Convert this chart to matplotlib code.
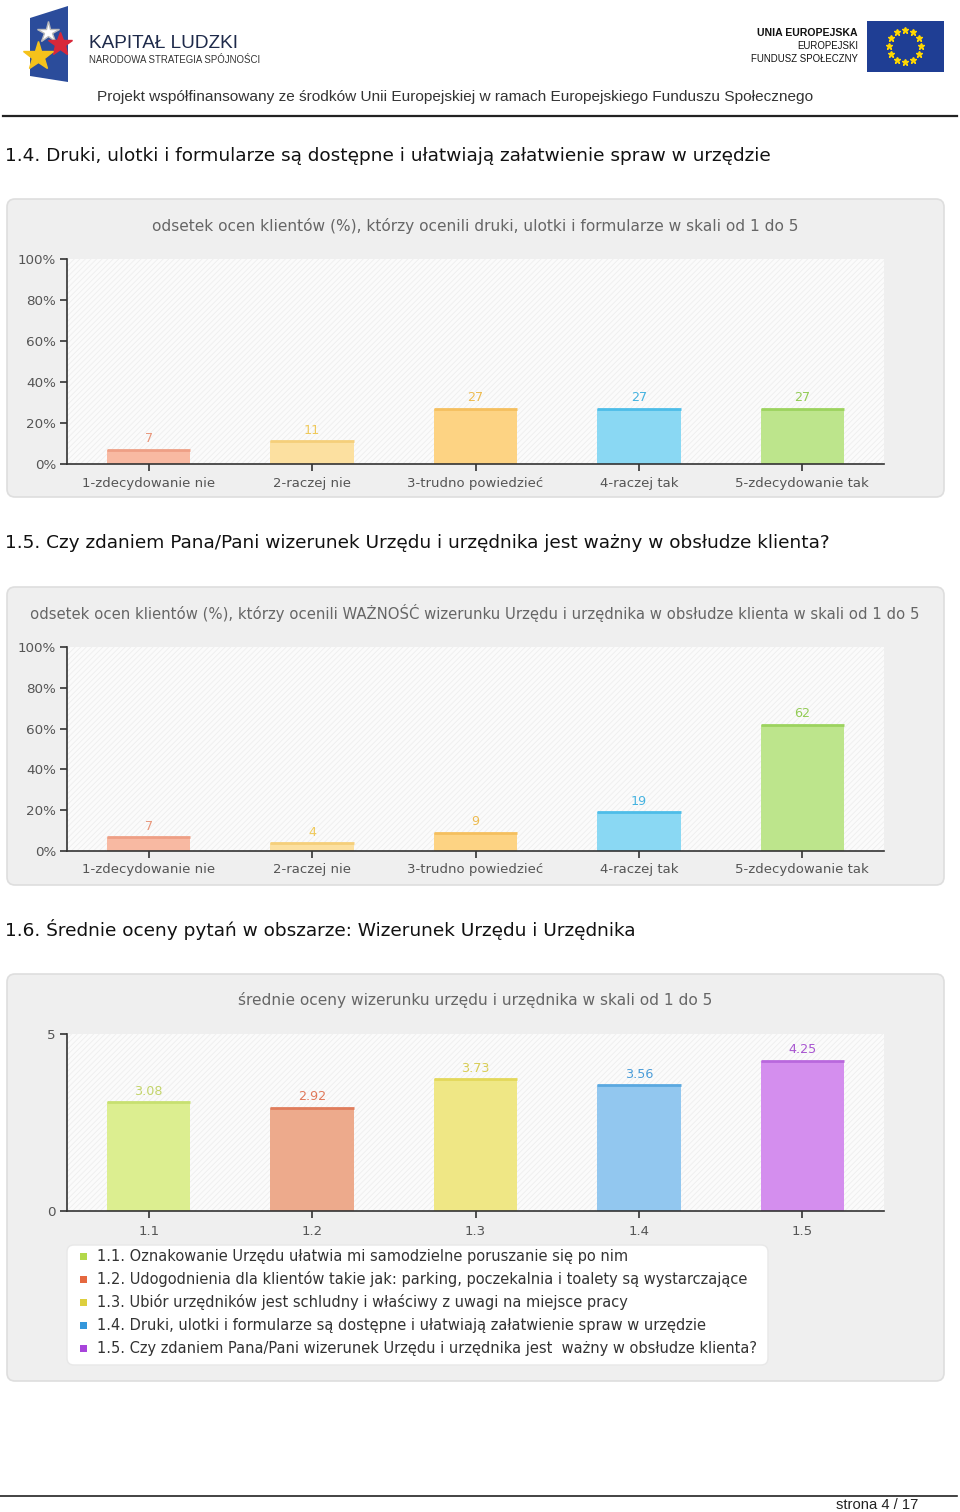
# Page 4 of the survey report: three bar charts with page header and footer
import matplotlib
matplotlib.use('Agg')
import matplotlib.pyplot as plt
from matplotlib.patches import FancyBboxPatch, Rectangle, Polygon
import numpy as np

plt.rcParams['font.family'] = ['DejaVu Sans']
plt.rcParams['hatch.linewidth'] = 0.6

## data
scale_cats = ['1-zdecydowanie nie', '2-raczej nie', '3-trudno powiedzieć', '4-raczej tak', '5-zdecydowanie tak']
druki_pct = [7, 11, 27, 27, 27]
wizerunek_pct = [7, 4, 9, 19, 62]
pct_ticks = [0, 20, 40, 60, 80, 100]
pct_ticklabels = ['0%', '20%', '40%', '60%', '80%', '100%']

mean_codes = ['1.1', '1.2', '1.3', '1.4', '1.5']
mean_scores = [3.08, 2.92, 3.73, 3.56, 4.25]
mean_ticks = [0, 5]
mean_legend = ['1.1. Oznakowanie Urzędu ułatwia mi samodzielne poruszanie się po nim',
               '1.2. Udogodnienia dla klientów takie jak: parking, poczekalnia i toalety są wystarczające',
               '1.3. Ubiór urzędników jest schludny i właściwy z uwagi na miejsce pracy',
               '1.4. Druki, ulotki i formularze są dostępne i ułatwiają załatwienie spraw w urzędzie',
               '1.5. Czy zdaniem Pana/Pani wizerunek Urzędu i urzędnika jest  ważny w obsłudze klienta?']

title1 = 'odsetek ocen klientów (%), którzy ocenili druki, ulotki i formularze w skali od 1 do 5'
title2 = 'odsetek ocen klientów (%), którzy ocenili WAŻNOŚĆ wizerunku Urzędu i urzędnika w obsłudze klienta w skali od 1 do 5'
title3 = 'średnie oceny wizerunku urzędu i urzędnika w skali od 1 do 5'

# colours
scale_fill = ['#F8B9A2', '#FCE0A0', '#FDD383', '#8AD8F3', '#BDE58C']
scale_top = ['#EE9F85', '#F5CF7A', '#F5BF5E', '#4DBDE8', '#9CD35E']
scale_lab = ['#E8967A', '#EFC95A', '#EDBB4F', '#45B3E0', '#93CB55']
mean_fill = ['#DCEE90', '#EDAA8C', '#EFE785', '#92C7EF', '#D48EEE']
mean_top = ['#C7E070', '#E07D5C', '#E3D85A', '#5AA8E0', '#B968DD']
mean_lab = ['#C3D46A', '#E0785A', '#D8CD55', '#4A9CD8', '#A855D0']
mean_key = ['#B3D84A', '#E5683F', '#DDCF3E', '#3497DB', '#A844DB']

W, H = 960, 1512
F1 = plt.figure(figsize=(9.6, 15.12), dpi=100)

# background axes in pixel coordinates for page furniture
bg = F1.add_axes([0, 0, 1, 1])
bg.set_xlim(0, W)
bg.set_ylim(H, 0)
bg.axis('off')

def px_axes(x0, y0, x1, y1):
    return F1.add_axes([x0 / W, 1 - y1 / H, (x1 - x0) / W, (y1 - y0) / H])

txtcol = '#555555'

## header
# Kapital Ludzki logo (simplified)
bg.add_patch(Polygon([[30, 18], [68, 6], [68, 82], [30, 76]], closed=True, facecolor='#2B4C9B', edgecolor='none'))
bg.plot([48], [32], marker='*', markersize=16, color='white', markeredgecolor='#bbbbbb')
bg.plot([60], [44], marker='*', markersize=18, color='#D8283A')
bg.plot([38], [56], marker='*', markersize=22, color='#F5C21B')
bg.text(89, 43, 'KAPITAŁ LUDZKI', fontsize=13.7, color='#1E2A4A', family='Liberation Sans', va='center', ha='left')
bg.text(89, 60, 'NARODOWA STRATEGIA SPÓJNOŚCI', fontsize=6.9, color='#333333', family='Liberation Sans', va='center', ha='left')
# EU logo
bg.text(858, 33, 'UNIA EUROPEJSKA', fontsize=7.6, fontweight='bold', color='#111111', family='Liberation Sans', va='center', ha='right')
bg.text(858, 46, 'EUROPEJSKI', fontsize=6.9, color='#111111', family='Liberation Sans', va='center', ha='right')
bg.text(858, 59, 'FUNDUSZ SPOŁECZNY', fontsize=6.9, color='#111111', family='Liberation Sans', va='center', ha='right')
bg.add_patch(Rectangle((867, 21), 77, 51, facecolor='#1F3E94', edgecolor='none'))
ang = np.linspace(0, 2 * np.pi, 13)[:-1]
bg.plot(905 + 16 * np.cos(ang), 46 + 16 * np.sin(ang), linestyle='none', marker='*', markersize=5, color='#FFD700')
bg.text(455, 97, 'Projekt współfinansowany ze środków Unii Europejskiej w ramach Europejskiego Funduszu Społecznego',
        fontsize=11.1, color='#333333', family='Liberation Sans', va='center', ha='center')
bg.plot([3, 957], [116, 116], color='#222222', lw=1.6)

## footer
bg.plot([0, 957], [1496, 1496], color='#222222', lw=1.2)
bg.text(918, 1505, 'strona 4 / 17', fontsize=10.6, color='#222222', family='Liberation Sans', va='center', ha='right')

## section headings
heads = [(156, '1.4. Druki, ulotki i formularze są dostępne i ułatwiają załatwienie spraw w urzędzie'),
         (543, '1.5. Czy zdaniem Pana/Pani wizerunek Urzędu i urzędnika jest ważny w obsłudze klienta?'),
         (930, '1.6. Średnie oceny pytań w obszarze: Wizerunek Urzędu i Urzędnika')]
for y, t in heads:
    bg.text(5, y, t, fontsize=13.3, color='#111111', va='center', ha='left')


def panel(box, plot, title, title_y, title_fs, cats, vals, fill, top, lab, ticks, ticklabels, ymax, fmt, xpad):
    bx0, by0, bx1, by1 = box
    bg.add_patch(FancyBboxPatch((bx0, by0), bx1 - bx0, by1 - by0, boxstyle='round,pad=0,rounding_size=8',
                                facecolor='#EFEFEF', edgecolor='#DEDEDE', lw=1.2))
    bg.text((bx0 + bx1) / 2 - 0.5, title_y, title, fontsize=title_fs, color='#666666', va='center', ha='center')
    ax = px_axes(*plot)
    ax.set_facecolor('none')
    ax.add_patch(Rectangle((0, 0), 1, 1, transform=ax.transAxes, facecolor='#FBFBFB', edgecolor='#EEEEEE',
                           hatch='//////', lw=0, zorder=0))
    x = np.arange(len(vals))
    w = 0.51
    ax.bar(x, vals, width=w, color=fill, edgecolor='none', zorder=2)
    ax.hlines(vals, x - w / 2, x + w / 2, colors=top, lw=2, zorder=3)
    for xi, v, c in zip(x, vals, lab):
        ax.annotate(fmt.format(v), (xi, v), xytext=(0, 3), textcoords='offset points',
                    ha='center', va='bottom', fontsize=9.2, color=c)
    ax.set_xlim(-0.5, 4.5)
    ax.set_ylim(0, ymax)
    ax.set_xticks(x)
    ax.set_xticklabels(cats, fontsize=9.5, color=txtcol)
    ax.set_yticks(ticks)
    ax.set_yticklabels(ticklabels, fontsize=9.7, color=txtcol)
    for s in ['top', 'right']:
        ax.spines[s].set_visible(False)
    for s in ['left', 'bottom']:
        ax.spines[s].set_color('#333333')
        ax.spines[s].set_linewidth(1.2)
        ax.spines[s].set_zorder(4)
    ax.tick_params(length=5, width=1.2, color='#333333', pad=3)
    ax.tick_params(axis='x', pad=xpad)
    return ax


panel((7, 199, 944, 497), (67, 259, 884, 464), title1, 226, 11.1, scale_cats, druki_pct,
      scale_fill, scale_top, scale_lab, pct_ticks, pct_ticklabels, 100, '{:d}', 4)
panel((7, 587, 944, 885), (67, 647, 884, 851), title2, 613, 10.7, scale_cats, wizerunek_pct,
      scale_fill, scale_top, scale_lab, pct_ticks, pct_ticklabels, 100, '{:d}', 4)
panel((7, 974, 944, 1381), (67, 1034, 884, 1211), title3, 1000, 11.1, mean_codes, mean_scores,
      mean_fill, mean_top, mean_lab, mean_ticks, [str(t) for t in mean_ticks], 5, '{:.2f}', 5)

# legend of the third chart
bg.add_patch(FancyBboxPatch((67, 1245), 701, 120, boxstyle='round,pad=0,rounding_size=7',
                            facecolor='white', edgecolor='#E8E8E8', lw=1))
for i, (t, c) in enumerate(zip(mean_legend, mean_key)):
    yy = 1256 + i * 23.2
    bg.add_patch(Rectangle((80, yy - 3.5), 7, 7, facecolor=c, edgecolor='none'))
    bg.text(97, yy, t, fontsize=10.5, color='#333333', va='center', ha='left')

plt.savefig('out.png', dpi=100)
